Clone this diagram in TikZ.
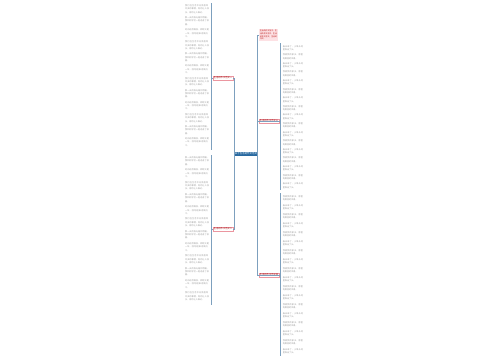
\documentclass[tikz,border=0pt]{standalone}
\usepackage{fontspec}
\newfontfamily\cjk{Noto Sans CJK SC}
\XeTeXlinebreaklocale "zh"
\XeTeXlinebreakskip=0pt plus 0.5pt
\usetikzlibrary{positioning}

\definecolor{linecol}{RGB}{125,160,190}
\definecolor{topicblue}{RGB}{40,105,160}
\definecolor{branchred}{RGB}{235,150,160}
\definecolor{pinkfill}{RGB}{253,225,228}

% filler texts for the leaves
\def\leafa{我们在生活中总会遇到许多的事情，有的让人快乐，有的让人难过。}
\def\leafb{那一天的阳光格外明媚，我和同学们一起走进了校园。}
\def\leafc{时间过得真快，转眼又是一年，回想起来感慨万千。}
\def\leafd{春天来了，小草从地里探出了头。}
\def\leafe{我爱我的家乡，那里有美丽的风景。}

\begin{document}
\begin{tikzpicture}[
x=0.02cm,y=-0.02cm,
font=\cjk,
topic/.style={rectangle,fill=topicblue,text=white,inner sep=0pt,minimum width=0.44cm,minimum height=0.08cm,font=\cjk\fontsize{1.4}{1.6}\selectfont},
branch/.style={rectangle,draw=branchred,fill=white,line width=0.2pt,text=red!60!black,inner sep=0pt,minimum width=0.4cm,minimum height=0.08cm,font=\cjk\fontsize{1.3}{1.5}\selectfont},
note/.style={rectangle,fill=pinkfill,text=red!70!black,inner sep=0.5pt,text width=0.34cm,align=left,font=\cjk\fontsize{1.05}{1.6}\selectfont},
leaf/.style={inner sep=0pt,text=gray!80,align=left,font=\cjk\fontsize{1.2}{1.9}\selectfont},
channel/.style={draw=linecol,line width=0.5pt}
]
\useasboundingbox (0,0) rectangle (500,360);

% centre and branches
\node [topic] (c) at (246,154) {关于生活的作文范文};
\node [branch] (b1) at (223,78) {生活的作文范文一};
\node [branch] (b2) at (223,229) {生活的作文范文二};
\node [note] (b0) at (268.5,35) {生活的作文范文，生活的作文范文，生活的作文范文，生活的作文。};
\node [branch] (b3) at (269,121) {生活的作文范文三};
\node [branch] (b4) at (269,275) {生活的作文范文四};

\draw [channel] (c.west) |- (b1.east);
\draw [channel] (c.west) |- (b2.east);
\draw [channel] (c.east) |- (b0.west);
\draw [channel] (c.east) |- (b3.west);
\draw [channel] (c.east) |- (b4.west);

% columns
\coordinate (t1) at (211,3);   \coordinate (e1) at (211,150);
\coordinate (t2) at (211,155); \coordinate (e2) at (211,305);
\coordinate (t3) at (280,43);  \coordinate (e3) at (280,190);
\coordinate (t4) at (280,193); \coordinate (e4) at (280,356);
\foreach \k in {1,2,3,4}{
  \draw [channel] (t\k) -- (e\k);
}
\draw [channel] (b1.west) -- (b1.west -| t1);
\draw [channel] (b2.west) -- (b2.west -| t2);
\draw [channel] (b3.west) -- (b3.west -| t3);
\draw [channel] (b4.west) -- (b4.west -| t4);

% left leaves
\foreach \i in {0,...,11}{
  \pgfmathtruncatemacro\r{mod(\i,3)}
  \node [leaf,text width=0.48cm,anchor=east] (la\i) at (209.5,{9+12.1*\i})
    {\ifcase\r\leafa\or\leafb\or\leafc\fi};
  \node [leaf,text width=0.48cm,anchor=east] (lb\i) at (209.5,{161+12.3*\i})
    {\ifcase\r\leafb\or\leafc\or\leafa\fi};
}

% right leaves
\foreach \i in {0,...,16}{
  \pgfmathtruncatemacro\r{mod(\i,2)}
  \node [leaf,text width=0.42cm,anchor=west] (ra\i) at (282.5,{48+8.6*\i})
    {\ifcase\r\leafd\or\leafe\fi};
}
\foreach \i in {0,...,17}{
  \pgfmathtruncatemacro\r{mod(\i,2)}
  \node [leaf,text width=0.42cm,anchor=west] (rb\i) at (282.5,{198+9*\i})
    {\ifcase\r\leafe\or\leafd\fi};
}
\end{tikzpicture}
\end{document}
